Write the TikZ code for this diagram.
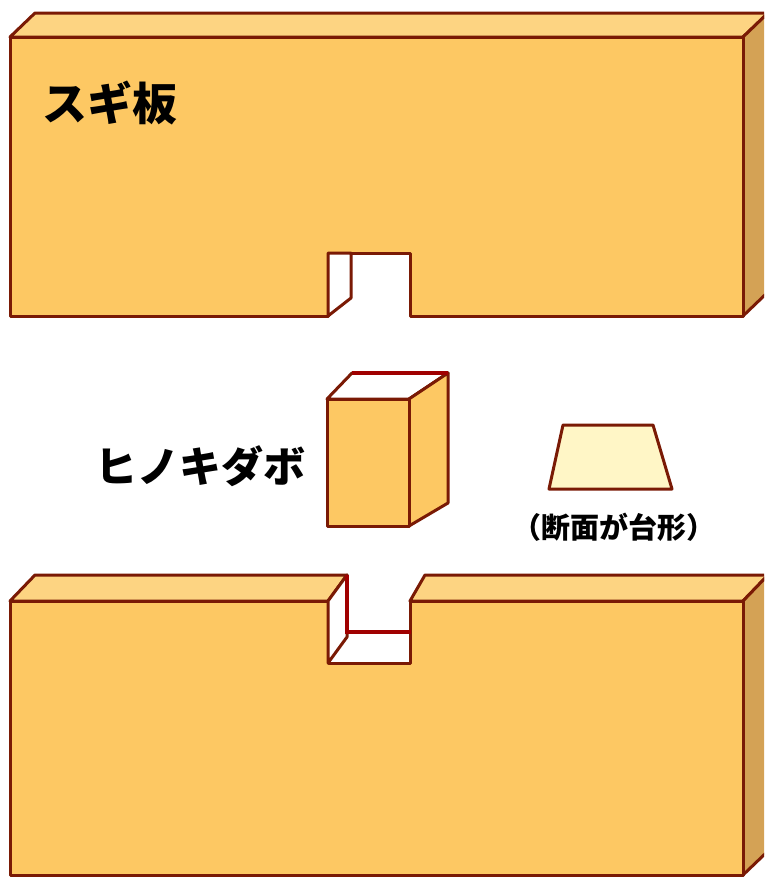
\documentclass[tikz,border=0pt]{standalone}
\usepackage{fontspec}
\newfontfamily\jpfont{Noto Sans CJK JP}
\usepackage{tikz}
\definecolor{woodfront}{HTML}{FDC863}
\definecolor{woodtop}{HTML}{FDD482}
\definecolor{woodside}{HTML}{D4A255}
\definecolor{woodedge}{HTML}{7A1A05}
\definecolor{groove}{HTML}{A00000}
\definecolor{section}{HTML}{FFF6C6}
\tikzstyle{face}=[draw=woodedge,line width=3pt,line join=round]
\tikzstyle{front}=[face,fill=woodfront]
\tikzstyle{top}=[face,fill=woodtop]
\tikzstyle{side}=[face,fill=woodside]
\tikzstyle{inner}=[face,fill=white]
\tikzstyle{hidden}=[draw=groove,line width=3.8pt]
\tikzstyle{label}=[font=\jpfont\bfseries,text=black,inner sep=0pt]

\begin{document}
\begin{tikzpicture}[x=1pt,y=-1pt]
            \clip (0,0) rectangle (764,878);
            \fill[white] (0,0) rectangle (764,878);
            % upper board
            \draw[top] (10,37) -- (35,13) -- (768,13) -- (743,37) -- cycle;
            \draw[side] (743,37) -- (768,13) -- (768,292) -- (743,316) -- cycle;
            \draw[front] (10,37) -- (743,37) -- (743,316) -- (410,316)
                -- (410,253) -- (328,253) -- (328,316) -- (10,316) -- cycle;
            \draw[inner] (328,253) -- (351,253) -- (351,298) -- (328,316) -- cycle;
            \node[label] (sugi) at (110,103) {\fontsize{45}{45}\selectfont スギ板};
            % dowel
            \draw[inner] (327,399) -- (352,373) -- (448,373) -- (409,399) -- cycle;
            \draw[front] (409,399) -- (448,373) -- (448,503) -- (409,526) -- cycle;
            \draw[front] (327,399) rectangle (409,526);
            \draw[hidden] (352,373) -- (448,373);
            \node[label] (hinoki) at (200,466) {\fontsize{42}{42}\selectfont ヒノキダボ};
            % cross section
            \draw[face,fill=section] (563,425) -- (653,425) -- (672,489) -- (549,489) -- cycle;
            \node[label] (danmen) at (614,527) {\fontsize{29}{29}\selectfont （断面が台形）};
            % lower board
            \draw[top] (10,601) -- (35,575) -- (347,575) -- (328,601) -- cycle;
            \draw[top] (410,601) -- (425,575) -- (768,575) -- (743,601) -- cycle;
            \draw[side] (743,601) -- (768,575) -- (768,851) -- (743,875) -- cycle;
            \draw[front] (10,601) -- (328,601) -- (328,663) -- (410,663)
                -- (410,601) -- (743,601) -- (743,875) -- (10,875) -- cycle;
            \draw[inner] (328,601) -- (347,575) -- (347,637) -- (328,663) -- cycle;
            \draw[hidden] (347,575) -- (347,632) -- (411,632);
\end{tikzpicture}
\end{document}
